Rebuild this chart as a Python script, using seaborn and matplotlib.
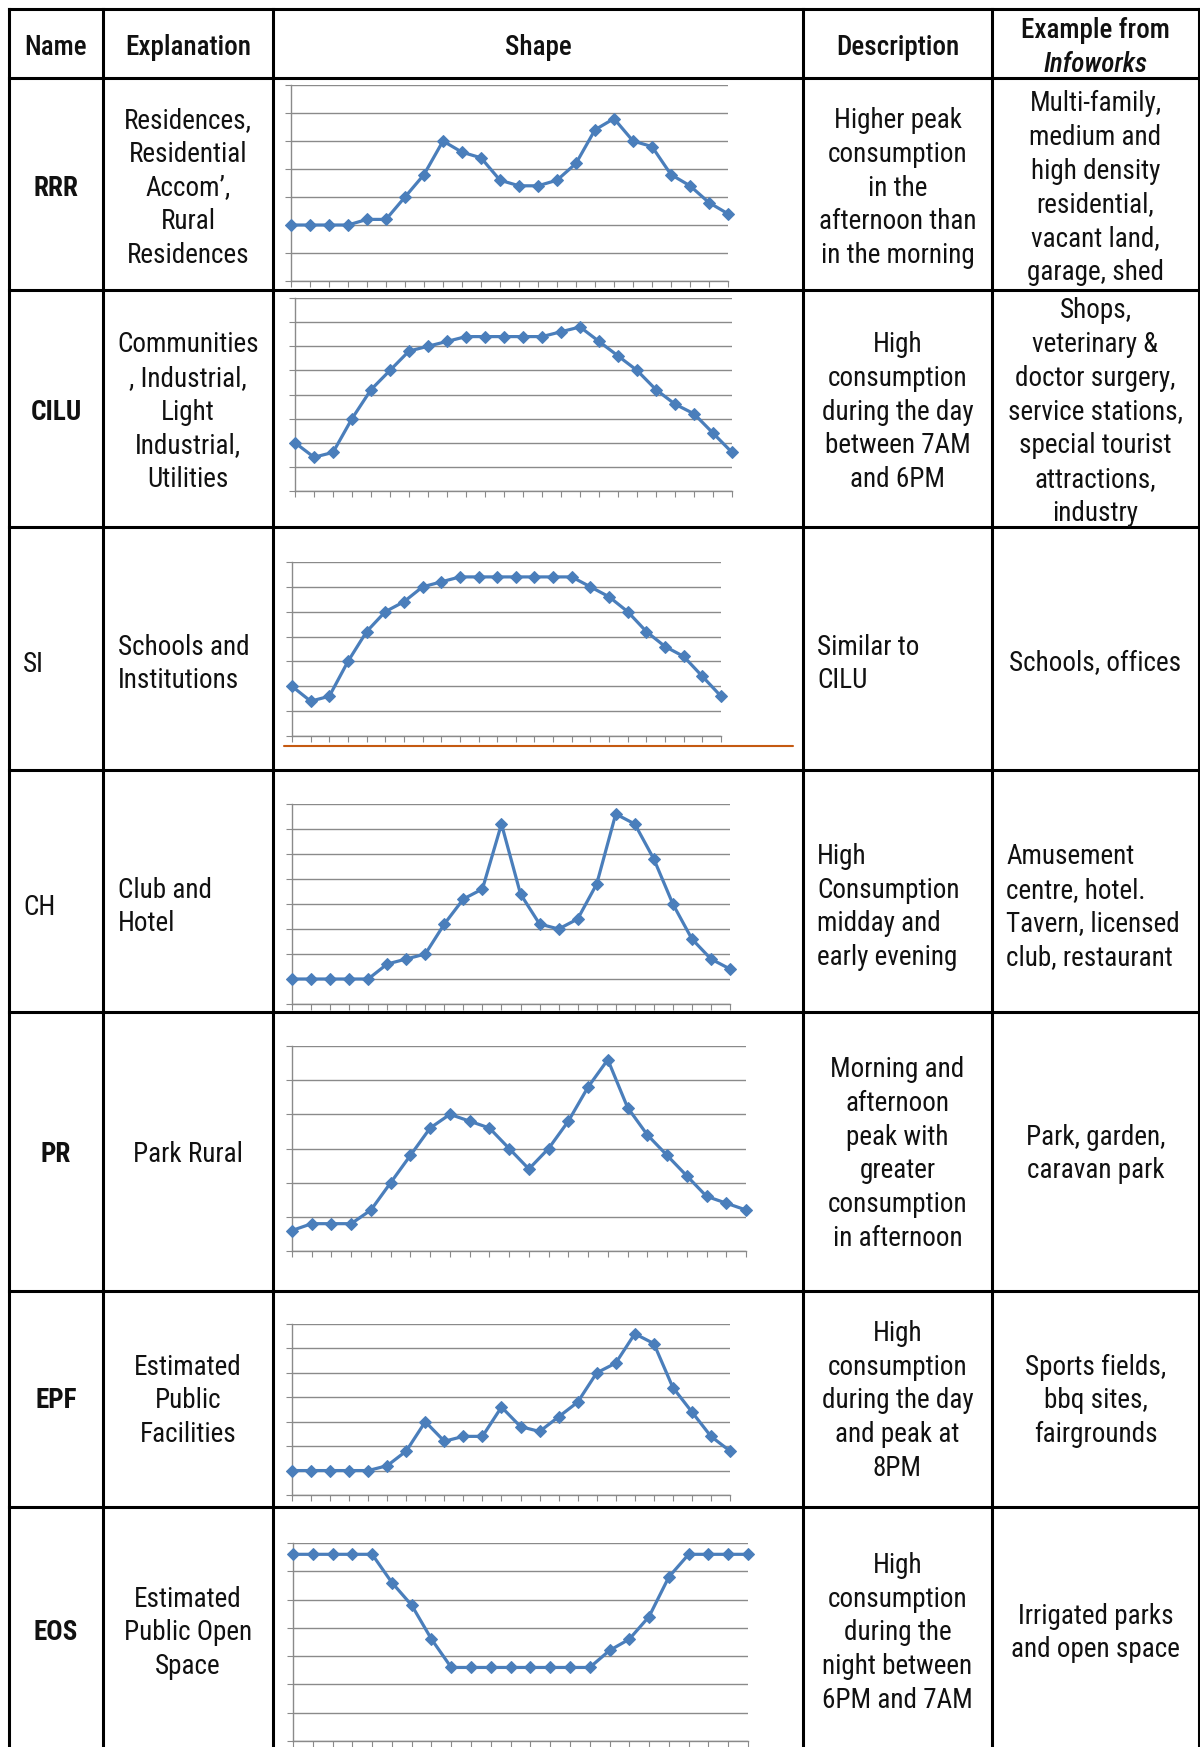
import matplotlib
matplotlib.use("Agg")
import matplotlib.pyplot as plt
import seaborn as sns
import pandas as pd
from matplotlib import font_manager

# Hourly profile values (24 points per category)
HOURS = list(range(24))
RRR = [2.0, 2.0, 2.0, 2.0, 2.2, 2.2, 3.0, 3.8, 5.0, 4.6, 4.4, 3.6,
       3.4, 3.4, 3.6, 4.2, 5.4, 5.8, 5.0, 4.8, 3.8, 3.4, 2.8, 2.4]
CILU = [2.0, 1.4, 1.6, 3.0, 4.2, 5.0, 5.8, 6.0, 6.2, 6.4, 6.4, 6.4,
        6.4, 6.4, 6.6, 6.8, 6.2, 5.6, 5.0, 4.2, 3.6, 3.2, 2.4, 1.6]
SI = [2.0, 1.4, 1.6, 3.0, 4.2, 5.0, 5.4, 6.0, 6.2, 6.4, 6.4, 6.4,
      6.4, 6.4, 6.4, 6.4, 6.0, 5.6, 5.0, 4.2, 3.6, 3.2, 2.4, 1.6]
CH = [1.0, 1.0, 1.0, 1.0, 1.0, 1.6, 1.8, 2.0, 3.2, 4.2, 4.6, 7.2,
      4.4, 3.2, 3.0, 3.4, 4.8, 7.6, 7.2, 5.8, 4.0, 2.6, 1.8, 1.4]
PR = [0.6, 0.8, 0.8, 0.8, 1.2, 2.0, 2.8, 3.6, 4.0, 3.8, 3.6, 3.0,
      2.4, 3.0, 3.8, 4.8, 5.6, 4.2, 3.4, 2.8, 2.2, 1.6, 1.4, 1.2]
EPF = [1.0, 1.0, 1.0, 1.0, 1.0, 1.2, 1.8, 3.0, 2.2, 2.4, 2.4, 3.6,
       2.8, 2.6, 3.2, 3.8, 5.0, 5.4, 6.6, 6.2, 4.4, 3.4, 2.4, 1.8]
EOS = [6.6, 6.6, 6.6, 6.6, 6.6, 5.6, 4.8, 3.6, 2.6, 2.6, 2.6, 2.6,
       2.6, 2.6, 2.6, 2.6, 3.2, 3.6, 4.4, 5.8, 6.6, 6.6, 6.6, 6.6]

# Table text
HEADERS = ["Name", "Explanation", "Shape", "Description"]
HEADER_EXAMPLE = ["Example from", "Infoworks"]
CODES = ["RRR", "CILU", "SI", "CH", "PR", "EPF", "EOS"]
EXPLANATIONS = [
    "Residences,\nResidential\nAccom\u2019,\nRural\nResidences",
    "Communities\n, Industrial,\nLight\nIndustrial,\nUtilities",
    "Schools and\nInstitutions",
    "Club and\nHotel",
    "Park Rural",
    "Estimated\nPublic\nFacilities",
    "Estimated\nPublic Open\nSpace",
]
DESCRIPTIONS = [
    "Higher peak\nconsumption\nin the\nafternoon than\nin the morning",
    "High\nconsumption\nduring the day\nbetween 7AM\nand 6PM",
    "Similar to\nCILU",
    "High\nConsumption\nmidday and\nearly evening",
    "Morning and\nafternoon\npeak with\ngreater\nconsumption\nin afternoon",
    "High\nconsumption\nduring the day\nand peak at\n8PM",
    "High\nconsumption\nduring the\nnight between\n6PM and 7AM",
]
EXAMPLES = [
    "Multi-family,\nmedium and\nhigh density\nresidential,\nvacant land,\ngarage, shed",
    "Shops,\nveterinary &\ndoctor surgery,\nservice stations,\nspecial tourist\nattractions,\nindustry",
    "Schools, offices",
    "Amusement\ncentre, hotel.\nTavern, licensed\nclub, restaurant",
    "Park, garden,\ncaravan park",
    "Sports fields,\nbbq sites,\nfairgrounds",
    "Irrigated parks\nand open space",
]
PROFILES = [RRR, CILU, SI, CH, PR, EPF, EOS]

# ---- layout (pixels of a 1200 x 1747 canvas) ----
W, H = 1200, 1747
COL_X = [9, 103, 273, 803, 992, 1199]
ROW_Y = [9, 78, 290, 527, 770, 1012, 1291, 1507]
ROW_CENTER = [185, 409, 661, 904, 1151, 1398, 1630]
# chart boxes: left, right, top, bottom and y max
CHART_BOX = [(291, 728, 85, 281), (295, 732, 298, 491), (292, 721, 562, 736),
             (292, 730, 804, 1004), (292, 746, 1046, 1251), (292, 730, 1324, 1495),
             (293, 748, 1543, 1741)]
YMAX = [7, 8, 7, 8, 6, 7, 7]
LEFT_ALIGNED = {"SI", "CH"}
BOLD_CODES = {"RRR", "CILU", "PR", "EPF", "EOS"}

sns.set_theme(style="white")
available = {f.name for f in font_manager.fontManager.ttflist}
FONT, FS = "Liberation Sans", 16
for cand in ["Liberation Sans Narrow", "Arial Narrow", "Roboto Condensed"]:
    if cand in available:
        FONT, FS = cand, 19.5
        break
plt.rcParams["font.family"] = [FONT, "DejaVu Sans"]

LINE_H = 33.9
TXT = "#111111"
BLUE = "#4A7EBB"
GRID = "#8A8A8A"

fig = plt.figure(figsize=(W / 100, H / 100), dpi=100)
tab = fig.add_axes([0, 0, 1, 1])
tab.set_xlim(0, W)
tab.set_ylim(H, 0)
tab.axis("off")

# table rules
for x in COL_X:
    tab.plot([x, x], [ROW_Y[0], H], color="black", lw=2.2, solid_capstyle="projecting")
for y in ROW_Y:
    tab.plot([COL_X[0], COL_X[-1]], [y, y], color="black", lw=2.2, solid_capstyle="projecting")


def cell_text(x, yc, text, ha="center", weight="normal", style="normal"):
    lines = text.split("\n")
    n = len(lines)
    for i, line in enumerate(lines):
        y = yc + (i - (n - 1) / 2) * LINE_H
        tab.text(x, y, line, ha=ha, va="center_baseline", fontsize=FS,
                 color=TXT, fontweight=weight, fontstyle=style)


# header
centers = [(COL_X[i] + COL_X[i + 1]) / 2 for i in range(5)]
for i, h in enumerate(HEADERS):
    cell_text(centers[i], 44, h, weight="medium")
cell_text(centers[4], 27, HEADER_EXAMPLE[0], weight="medium")
cell_text(centers[4], 61, HEADER_EXAMPLE[1], weight="medium", style="italic")

# body text
for r, code in enumerate(CODES):
    yc = ROW_CENTER[r]
    left = code in LEFT_ALIGNED
    if left:
        cell_text(COL_X[0] + 14, yc, code, ha="left")
        cell_text(COL_X[1] + 15, yc, EXPLANATIONS[r], ha="left")
        cell_text(COL_X[3] + 14, yc, DESCRIPTIONS[r], ha="left")
    else:
        cell_text(centers[0], yc, code, weight="bold" if code in BOLD_CODES else "normal")
        cell_text(centers[1], yc, EXPLANATIONS[r])
        cell_text(centers[3], yc, DESCRIPTIONS[r])
    if code == "CH":
        cell_text(COL_X[4] + 14, yc, EXAMPLES[r], ha="left")
    else:
        cell_text(centers[4], yc, EXAMPLES[r])

# stray orange rule under the SI chart
tab.plot([284, 793], [746, 746], color="#C55A11", lw=1.5)

# the small line charts
for r, vals in enumerate(PROFILES):
    x0, x1, y0, y1 = CHART_BOX[r]
    ax = fig.add_axes([x0 / W, 1 - y1 / H, (x1 - x0) / W, (y1 - y0) / H])
    df = pd.DataFrame({"hour": HOURS, "value": vals})
    sns.lineplot(data=df, x="hour", y="value", ax=ax, color=BLUE, lw=2.3,
                 marker="D", markersize=6.5, markeredgecolor=BLUE,
                 clip_on=False, zorder=5)
    ax.set_xlim(0, 23)
    ax.set_ylim(0, YMAX[r])
    ax.set_xticks(HOURS)
    ax.set_yticks(range(YMAX[r] + 1))
    ax.set_xticklabels([])
    ax.set_yticklabels([])
    ax.set_xlabel("")
    ax.set_ylabel("")
    ax.grid(axis="y", color=GRID, lw=1.0)
    ax.set_axisbelow(True)
    for side in ["top", "right"]:
        ax.spines[side].set_visible(False)
    for side in ["left", "bottom"]:
        ax.spines[side].set_color(GRID)
        ax.spines[side].set_linewidth(1.0)
    ax.tick_params(axis="both", which="major", direction="out", length=4,
                   width=0.8, color=GRID, bottom=True, left=True)
    ax.patch.set_alpha(0)

fig.savefig("out.png", dpi=100)
